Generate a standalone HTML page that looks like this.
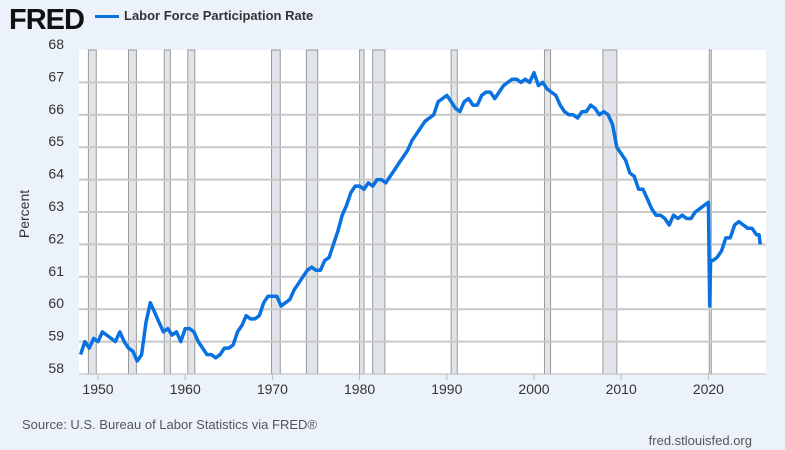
<!DOCTYPE html>
<html><head><meta charset="utf-8"><style>
html,body{margin:0;padding:0;background:#ebf2fa;}
body{width:785px;height:450px;overflow:hidden;position:relative;font-family:"Liberation Sans",sans-serif;}
</style></head><body>
<div style="position:absolute;left:9px;top:4px;font-size:29px;font-weight:bold;letter-spacing:-1px;color:#111;">FRED</div>
<div style="position:absolute;left:95px;top:15px;width:24px;height:3px;background:#0a72e0;"></div>
<div style="position:absolute;left:124px;top:8px;font-size:13px;font-weight:bold;color:#333;">Labor Force Participation Rate</div>
<svg id="chart" width="785" height="450" style="position:absolute;left:0;top:0;"></svg>
<div style="position:absolute;left:22px;top:417px;font-size:13px;color:#555;">Source: U.S. Bureau of Labor Statistics via FRED®</div>
<div style="position:absolute;right:33px;top:433px;font-size:13px;color:#555;">fred.stlouisfed.org</div>
<script>
const yTicks=[58,59,60,61,62,63,64,65,66,67,68];
const xTicks=[1950,1960,1970,1980,1990,2000,2010,2020];
const recessions=[[1948.9,1949.8],[1953.5,1954.4],[1957.6,1958.3],[1960.3,1961.1],[1969.9,1970.9],[1973.9,1975.2],[1980.0,1980.5],[1981.5,1982.9],[1990.5,1991.2],[2001.2,2001.9],[2007.9,2009.5],[2020.1,2020.3]];
const dates=[1948,1948.5,1949,1949.5,1950,1950.5,1951,1951.5,1952,1952.5,1953,1953.5,1954,1954.5,1955,1955.5,1956,1956.5,1957,1957.5,1958,1958.5,1959,1959.5,1960,1960.5,1961,1961.5,1962,1962.5,1963,1963.5,1964,1964.5,1965,1965.5,1966,1966.5,1967,1967.5,1968,1968.5,1969,1969.5,1970,1970.5,1971,1971.5,1972,1972.5,1973,1973.5,1974,1974.5,1975,1975.5,1976,1976.5,1977,1977.5,1978,1978.5,1979,1979.5,1980,1980.5,1981,1981.5,1982,1982.5,1983,1983.5,1984,1984.5,1985,1985.5,1986,1986.5,1987,1987.5,1988,1988.5,1989,1989.5,1990,1990.5,1991,1991.5,1992,1992.5,1993,1993.5,1994,1994.5,1995,1995.5,1996,1996.5,1997,1997.5,1998,1998.5,1999,1999.5,2000,2000.5,2001,2001.5,2002,2002.5,2003,2003.5,2004,2004.5,2005,2005.5,2006,2006.5,2007,2007.5,2008,2008.5,2009,2009.5,2010,2010.5,2011,2011.5,2012,2012.5,2013,2013.5,2014,2014.5,2015,2015.5,2016,2016.5,2017,2017.5,2018,2018.5,2019,2019.5,2020,2020.15,2020.25,2020.5,2021,2021.5,2022,2022.5,2023,2023.5,2024,2024.5,2025,2025.5,2025.8,2025.95];
const values=[58.6,59.0,58.8,59.1,59.0,59.3,59.2,59.1,59.0,59.3,59.0,58.8,58.7,58.4,58.6,59.6,60.2,59.9,59.6,59.3,59.4,59.2,59.3,59.0,59.4,59.4,59.3,59.0,58.8,58.6,58.6,58.5,58.6,58.8,58.8,58.9,59.3,59.5,59.8,59.7,59.7,59.8,60.2,60.4,60.4,60.4,60.1,60.2,60.3,60.6,60.8,61.0,61.2,61.3,61.2,61.2,61.5,61.6,62.0,62.4,62.9,63.2,63.6,63.8,63.8,63.7,63.9,63.8,64.0,64.0,63.9,64.1,64.3,64.5,64.7,64.9,65.2,65.4,65.6,65.8,65.9,66.0,66.4,66.5,66.6,66.4,66.2,66.1,66.4,66.5,66.3,66.3,66.6,66.7,66.7,66.5,66.7,66.9,67.0,67.1,67.1,67.0,67.1,67.0,67.3,66.9,67.0,66.8,66.7,66.6,66.3,66.1,66.0,66.0,65.9,66.1,66.1,66.3,66.2,66.0,66.1,66.0,65.7,65.0,64.8,64.6,64.2,64.1,63.7,63.7,63.4,63.1,62.9,62.9,62.8,62.6,62.9,62.8,62.9,62.8,62.8,63.0,63.1,63.2,63.3,60.1,61.5,61.5,61.6,61.8,62.2,62.2,62.6,62.7,62.6,62.5,62.5,62.3,62.3,62.0];
const NS="http://www.w3.org/2000/svg";
const svg=document.getElementById('chart');
const L=79,R=766,T=50,B=374;
function x(d){return 98+(d-1950)*8.72;}
function y(v){return B-(v-58)*(B-T)/10;}
function mk(tag,attrs){const e=document.createElementNS(NS,tag);for(const k in attrs)e.setAttribute(k,attrs[k]);svg.appendChild(e);return e;}
let bg=mk('rect',{x:L,y:T,width:R-L,height:B-T,fill:'#fff'});


recessions.forEach(r=>{
  let e=mk('rect',{x:x(r[0]),y:T,width:Math.max(2,x(r[1])-x(r[0])),height:B-T,fill:'#e1e5ea',stroke:'#999','stroke-width':1});
  
  
});
yTicks.forEach(v=>{
  if(v>58&&v<68){let g=mk('line',{x1:L,x2:R,y1:y(v),y2:y(v),stroke:'#c8c8c8','stroke-width':2});
  
  }
  let t=mk('text',{x:64,y:y(v)-1,'text-anchor':'end','font-size':14,fill:'#333','font-family':'Liberation Sans, sans-serif'});
  t.textContent=v;
  
  
});
let ax=mk('line',{x1:L,x2:R,y1:B,y2:B,stroke:'#bbb','stroke-width':1});


xTicks.forEach(d=>{
  let tk=mk('line',{x1:x(d),x2:x(d),y1:B,y2:B+6,stroke:'#bbb'});
  
  
  let t=mk('text',{x:x(d),y:B+20,'text-anchor':'middle','font-size':14,fill:'#333','font-family':'Liberation Sans, sans-serif'});
  t.textContent=d;
  
  
});
let yt=mk('text',{x:0,y:0,transform:'translate(29,214) rotate(-90)','text-anchor':'middle','font-size':14,fill:'#333','font-family':'Liberation Sans, sans-serif'});
yt.textContent='Percent';


let p=dates.map((d,i)=>(i?'L':'M')+x(d).toFixed(1)+','+y(values[i]).toFixed(1)).join('');
let ln=mk('path',{d:p,fill:'none',stroke:'#0a72e0','stroke-width':3.5,'stroke-linejoin':'round'});


</script>
</body></html>
